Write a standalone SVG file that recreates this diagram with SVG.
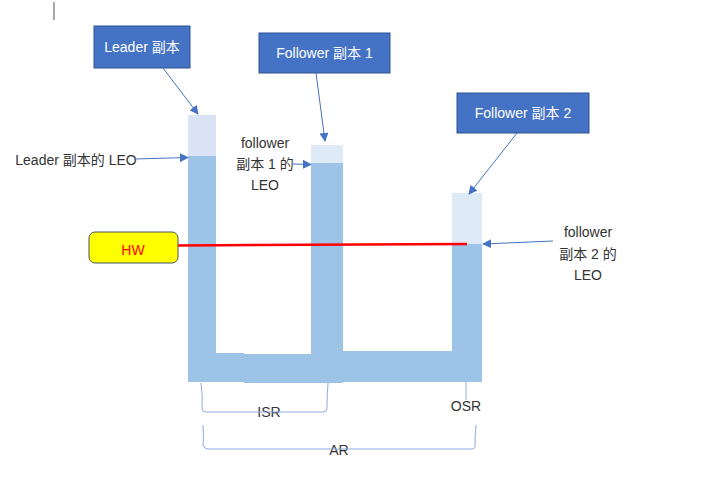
<svg xmlns="http://www.w3.org/2000/svg" width="712" height="500" viewBox="0 0 712 500">
<defs>
<marker id="ah" viewBox="0 0 10 10" refX="9" refY="5" markerWidth="7" markerHeight="7" orient="auto" markerUnits="userSpaceOnUse">
<path d="M0,0 L10,5 L0,10 z" fill="#4472c4"/>
</marker>
<marker id="ah2" viewBox="0 0 10 10" refX="9" refY="5" markerWidth="9" markerHeight="9" orient="auto" markerUnits="userSpaceOnUse">
<path d="M0,0 L10,5 L0,10 z" fill="#4472c4"/>
</marker>
</defs>
<style>
.t{font-family:"Liberation Sans","Noto Sans CJK SC",sans-serif;font-size:14px;fill:#333;text-anchor:middle}
.w{font-family:"Liberation Sans","Noto Sans CJK SC",sans-serif;font-size:14px;fill:#fff;text-anchor:middle}
.box{fill:#4472c4;stroke:#2f528f;stroke-width:1}
.dark{fill:#9dc3e6}
.light{fill:#deebf7}
.conn{stroke:#4472c4;stroke-width:1;fill:none}
.br{stroke:#8faadc;stroke-width:1;fill:none}
</style>
<rect width="712" height="500" fill="#fff"/>
<line x1="54" y1="2" x2="54" y2="20" stroke="#555" stroke-width="1"/>

<g id="bars">
<rect class="light" x="188" y="115" width="28" height="41" fill="#dae3f3" style="fill:#dae3f3"/>
<rect class="dark" x="188" y="156" width="28" height="226"/>
<rect class="light" x="311" y="145" width="32" height="18"/>
<rect class="dark" x="311" y="163" width="32" height="220"/>
<rect class="light" x="452" y="193" width="30" height="51"/>
<rect class="dark" x="452" y="244" width="30" height="138"/>
<rect class="dark" x="188" y="353" width="56" height="29"/>
<rect class="dark" x="244" y="354" width="67" height="29"/>
<rect class="dark" x="343" y="351" width="109" height="31"/>
</g>

<g id="leader">
<rect class="box" x="94" y="26" width="96" height="42"/>
<text class="w" x="142" y="52">Leader 副本</text>
</g>
<g id="follower1">
<rect class="box" x="259" y="33" width="131" height="40"/>
<text class="w" x="324.5" y="58">Follower 副本 1</text>
</g>
<g id="follower2">
<rect class="box" x="457" y="93" width="132" height="40"/>
<text class="w" x="523" y="118">Follower 副本 2</text>
</g>
<g id="hw">
<rect x="89" y="232" width="89" height="31" rx="6" fill="#ffff00" stroke="#44546a" stroke-width="1"/>
<text x="133" y="255" style="font-family:'Liberation Sans','Noto Sans CJK SC',sans-serif;font-size:14px;fill:#ff0000;text-anchor:middle">HW</text>
</g>
<g id="labels">
<text class="t" x="76" y="165">Leader 副本的 LEO</text>
<text class="t" x="265" y="148">follower</text>
<text class="t" x="265" y="169">副本 1 的</text>
<text class="t" x="265" y="190">LEO</text>
<text class="t" x="588" y="237">follower</text>
<text class="t" x="588" y="259">副本 2 的</text>
<text class="t" x="588" y="280">LEO</text>
<text class="t" x="269" y="417">ISR</text>
<text class="t" x="466" y="411">OSR</text>
<text class="t" x="339" y="455">AR</text>
</g>
<g id="connectors">
<line x1="178" y1="245.5" x2="467" y2="244" stroke="#ff0000" stroke-width="2.5"/>
<line class="conn" x1="163" y1="68" x2="198" y2="114" marker-end="url(#ah2)"/>
<line class="conn" x1="316" y1="73" x2="325" y2="141" marker-end="url(#ah2)"/>
<line class="conn" x1="517" y1="133" x2="469" y2="194" marker-end="url(#ah2)"/>
<line class="conn" x1="134" y1="159" x2="188" y2="157.5" marker-end="url(#ah2)"/>
<line class="conn" x1="293" y1="164" x2="311" y2="164.5" marker-end="url(#ah2)"/>
<line class="conn" x1="553" y1="241" x2="483" y2="244" marker-end="url(#ah2)"/>
<path class="br" d="M201,383 Q203,396 202,408 Q202,412 206,412 L323,412 Q327,412 327,408 Q327,396 328,383"/>
<line class="br" x1="466" y1="382" x2="466" y2="400"/>
<path class="br" d="M203,425 Q204,436 203,445 Q204,449 208,449 L471,449 Q476,449 475,445 Q475,436 476,425"/>
</g>
</svg>
